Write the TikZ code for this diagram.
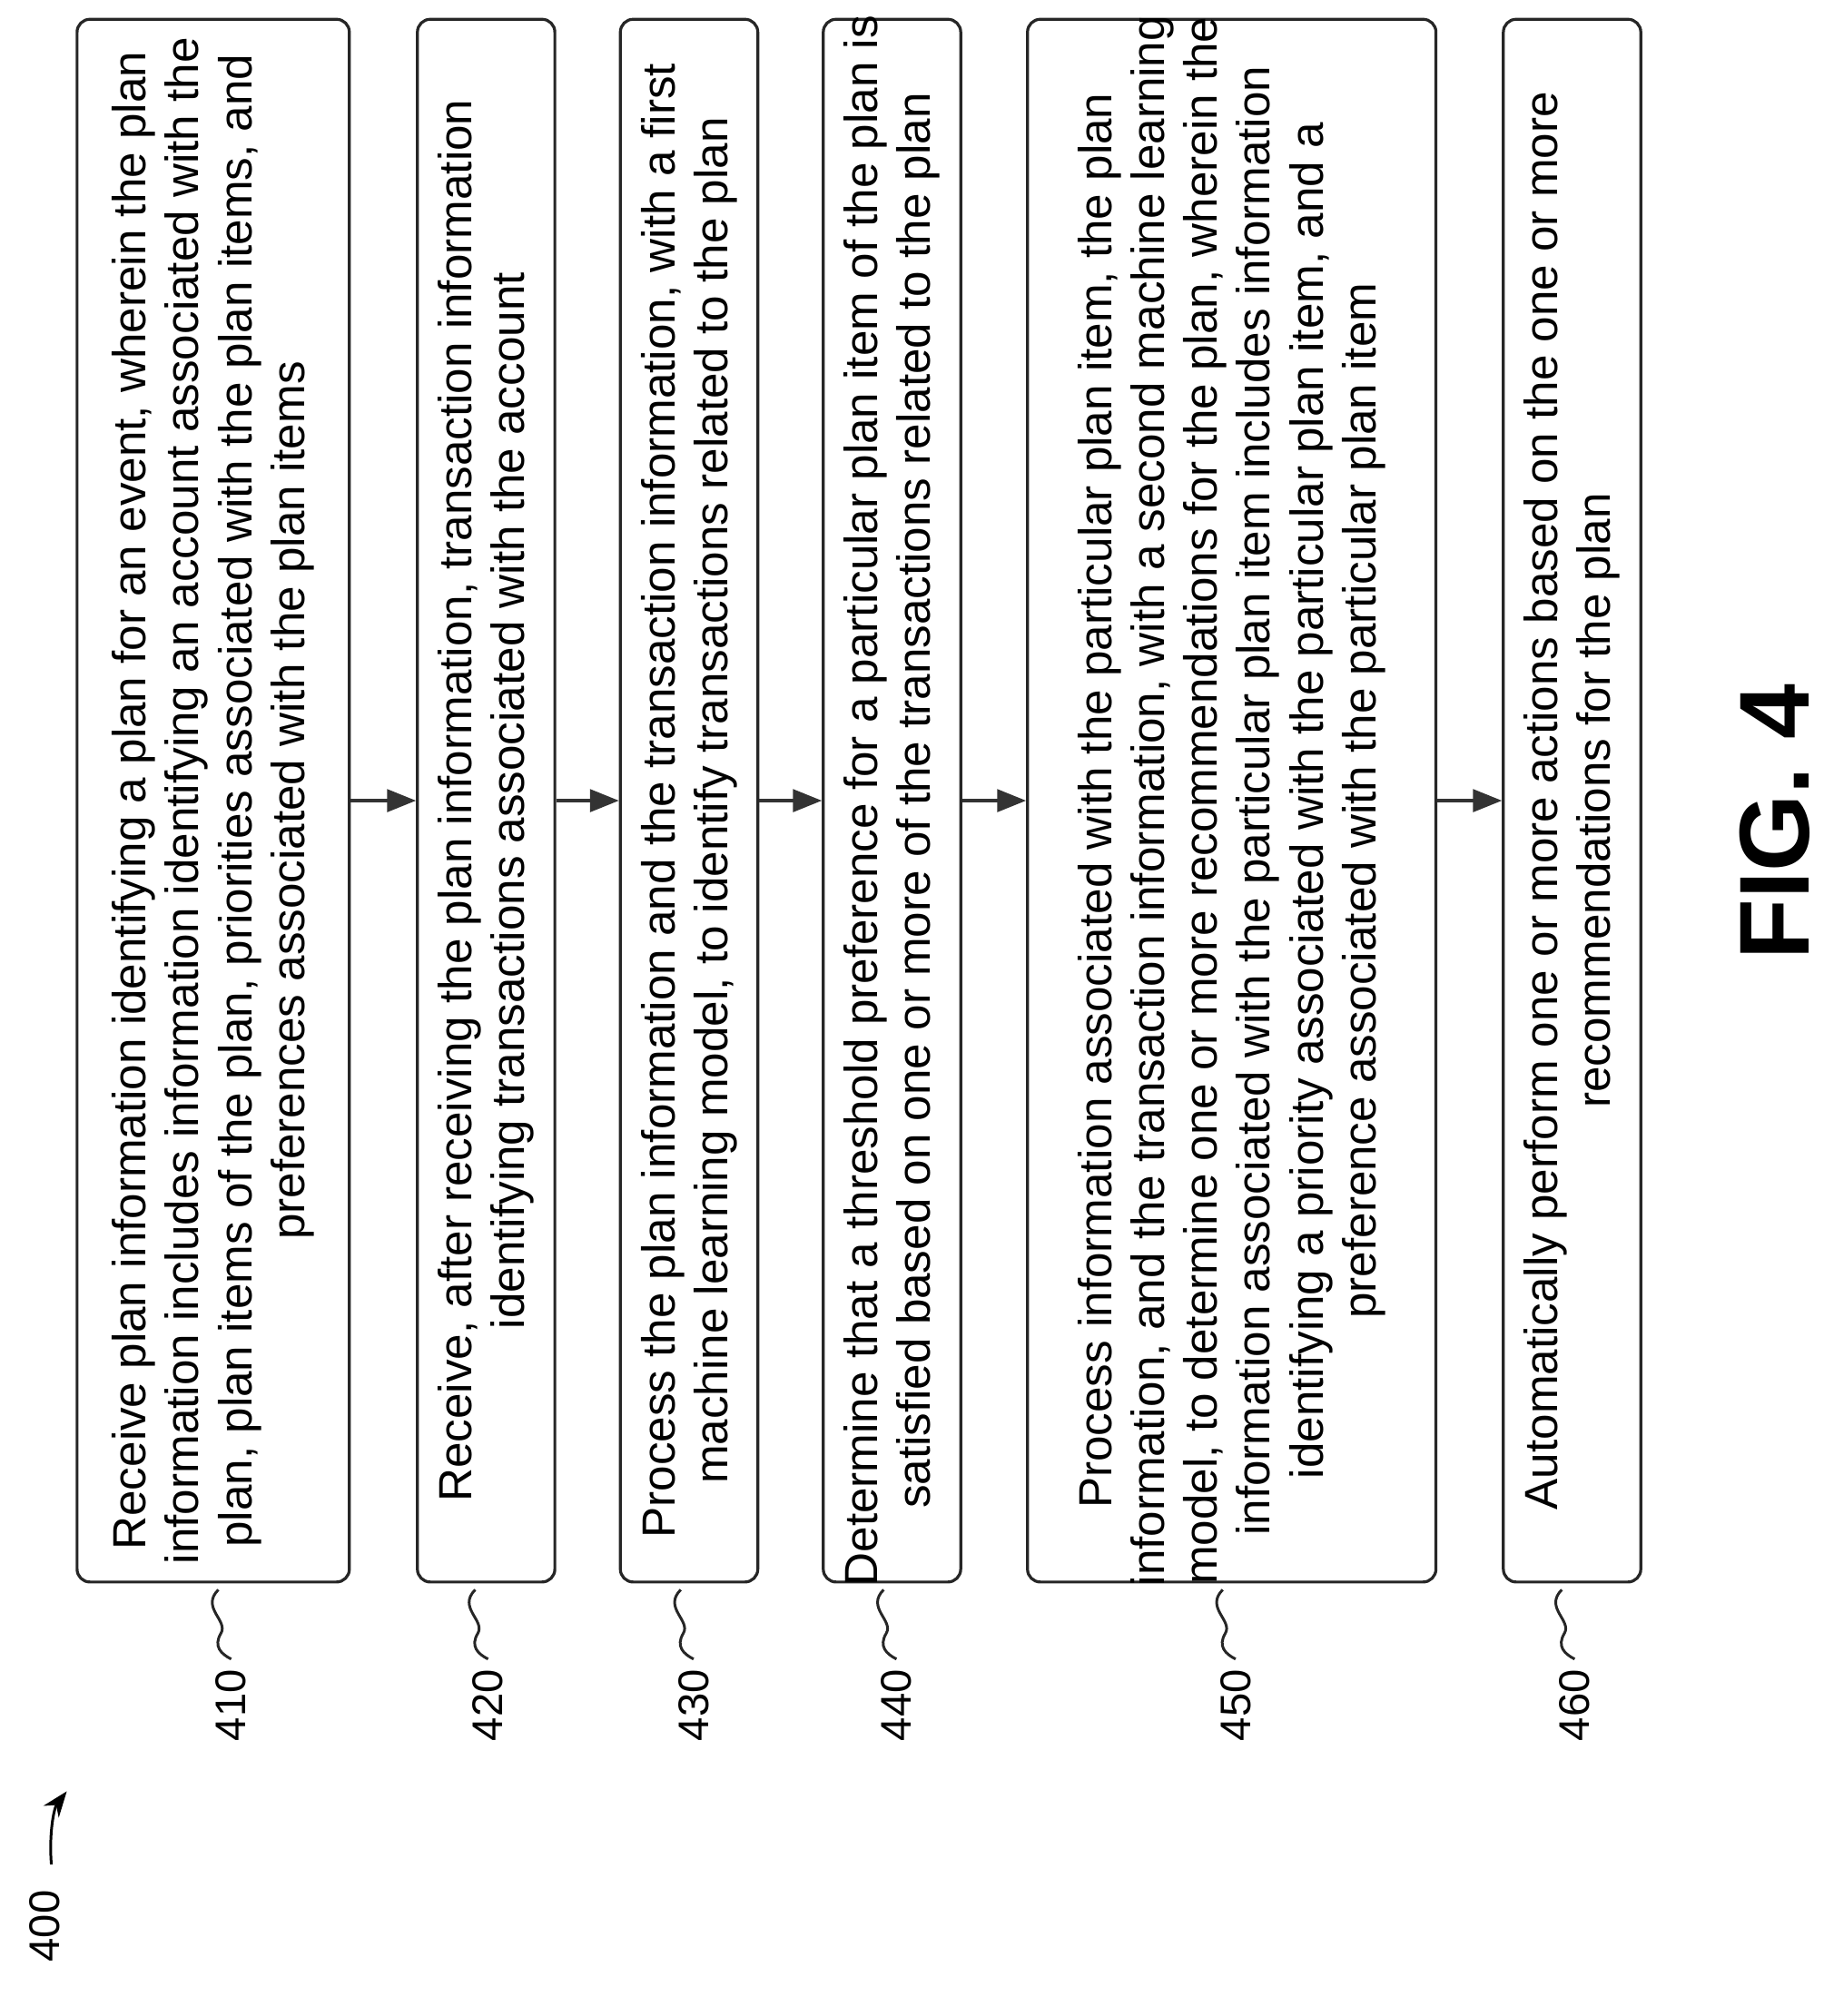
\documentclass[tikz,border=0pt]{standalone}
\usepackage{fontspec}
\setmainfont{Liberation Sans}
\usetikzlibrary{arrows.meta}
\begin{document}
\begin{tikzpicture}[x=0.02cm,y=-0.02cm,
  blk/.style={draw=black!85,line width=1.3pt,rounded corners=0.2cm},
  txt/.style={rotate=90,align=center,font=\fontsize{20.6}{23.4}\selectfont,inner sep=0},
  lab/.style={rotate=90,font=\fontsize{19}{22}\selectfont,inner sep=1pt},
  arr/.style={-{Triangle[length=0.45cm,width=0.35cm]},line width=1.3pt,black!80},
  sq/.style={line width=1.2pt,black!85}]
\useasboundingbox (0,0) rectangle (1420,1570);
\node[blk,minimum width=212*0.02cm,minimum height=1217*0.02cm] (b410) at (166,623.5) {};
\node[txt] at (b410) {Receive plan information identifying a plan for an event, wherein the plan\\information includes information identifying an account associated with the\\plan, plan items of the plan, priorities associated with the plan items, and\\preferences associated with the plan items};
\node[blk,minimum width=107*0.02cm,minimum height=1217*0.02cm] (b420) at (378.5,623.5) {};
\node[txt] at (b420) {Receive, after receiving the plan information, transaction information\\identifying transactions associated with the account};
\node[blk,minimum width=107*0.02cm,minimum height=1217*0.02cm] (b430) at (536.5,623.5) {};
\node[txt] at (b430) {Process the plan information and the transaction information, with a first\\machine learning model, to identify transactions related to the plan};
\node[blk,minimum width=107*0.02cm,minimum height=1217*0.02cm] (b440) at (694.5,623.5) {};
\node[txt] at (b440) {Determine that a threshold preference for a particular plan item of the plan is\\satisfied based on one or more of the transactions related to the plan};
\node[blk,minimum width=318*0.02cm,minimum height=1217*0.02cm] (b450) at (959,623.5) {};
\node[txt] at (b450) {Process information associated with the particular plan item, the plan\\information, and the transaction information, with a second machine learning\\model, to determine one or more recommendations for the plan, wherein the\\information associated with the particular plan item includes information\\identifying a priority associated with the particular plan item, and a\\preference associated with the particular plan item};
\node[blk,minimum width=107*0.02cm,minimum height=1217*0.02cm] (b460) at (1224,623.5) {};
\node[txt] at (b460) {Automatically perform one or more actions based on the one or more\\recommendations for the plan};
\draw[arr] (b410.east) -- (b420.west);
\draw[arr] (b420.east) -- (b430.west);
\draw[arr] (b430.east) -- (b440.west);
\draw[arr] (b440.east) -- (b450.west);
\draw[arr] (b450.east) -- (b460.west);
\foreach \n/\x in {410/180,420/380,430/540,440/698,450/962,460/1226}{
  \node[lab] (l\n) at (\x,1328) {\n};
  \draw[sq] (\x-10,1238) .. controls (\x-24,1252) and (\x-2,1262) .. (\x-8,1272) .. controls (\x-14,1282) and (\x-8,1288) .. (\x,1292);
}
\node[lab] (l400) at (35,1500) {400};
\coordinate (a0) at (40,1452);
\coordinate (a1) at (52,1395);
\draw[line width=1.2pt,-{Stealth[length=0.4cm,width=0.3cm]}] (a0) .. controls (38,1428) and (42,1408) .. (a1);
\node[rotate=90,font=\fontsize{44}{50}\selectfont\bfseries] (fig) at (1382,640) {FIG. 4};
\end{tikzpicture}
\end{document}
